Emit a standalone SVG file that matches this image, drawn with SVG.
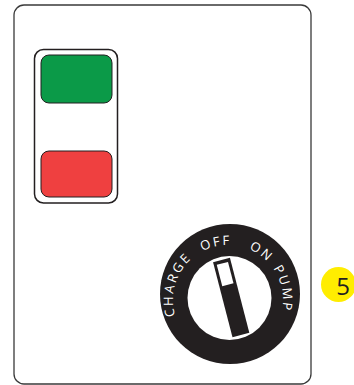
<svg xmlns="http://www.w3.org/2000/svg" xmlns:xlink="http://www.w3.org/1999/xlink" width="354" height="385" viewBox="0 0 354 385">
  <style>
    .panel { fill: #ffffff; stroke: #3a3a3a; stroke-width: 1.3; }
    .frame { fill: #ffffff; stroke: #231f20; stroke-width: 1.5; }
    .lamp { stroke: #231f20; stroke-width: 1; }
    .ink { fill: #231f20; }
    .dial-label { fill: #ffffff; font-family: "Open Sans", "Liberation Sans", sans-serif; font-size: 13px; letter-spacing: 2.2px; text-anchor: middle; }
    .badge-num { fill: #231f20; font-family: "Open Sans", "Liberation Sans", sans-serif; font-size: 24px; text-anchor: middle; }
  </style>
  <defs>
    <!-- baseline circle for the dial labels, starting at the bottom and running clockwise -->
    <path id="labelArc" d="M 228 355 A 55 55 0 1 1 228 245 A 55 55 0 1 1 228 355"/>
  </defs>

  <g id="panel">
    <rect class="panel" x="14" y="5" width="297" height="379" rx="10"/>
  </g>

  <g id="indicator-lights">
    <rect class="frame" x="34.5" y="49.5" width="83" height="153.5" rx="9"/>
    <rect id="lamp-green" class="lamp" x="41" y="55" width="71" height="48" rx="8" fill="#0b9a48"/>
    <rect id="lamp-red" class="lamp" x="41" y="151" width="71" height="46" rx="8" fill="#ef4040"/>
  </g>

  <g id="selector-switch">
    <circle class="ink" cx="230" cy="294" r="70"/>
    <circle cx="229.5" cy="298" r="42" fill="#ffffff"/>
    <text class="dial-label"><textPath xlink:href="#labelArc" startOffset="102">CHARGE</textPath></text>
    <text class="dial-label"><textPath xlink:href="#labelArc" startOffset="161">OFF</textPath></text>
    <text class="dial-label"><textPath xlink:href="#labelArc" startOffset="206">ON</textPath></text>
    <text class="dial-label"><textPath xlink:href="#labelArc" startOffset="248">PUMP</textPath></text>
    <g id="lever" transform="translate(221.5 260) rotate(-14.5)">
      <rect class="ink" x="-8.7" y="0" width="17.4" height="77.5"/>
      <rect x="-5.8" y="3.5" width="11.6" height="22" fill="#ffffff"/>
    </g>
  </g>

  <g id="badge-5">
    <circle cx="338.5" cy="284.5" r="17.5" fill="#ffed00"/>
    <text class="badge-num" x="343" y="295">5</text>
  </g>
</svg>
